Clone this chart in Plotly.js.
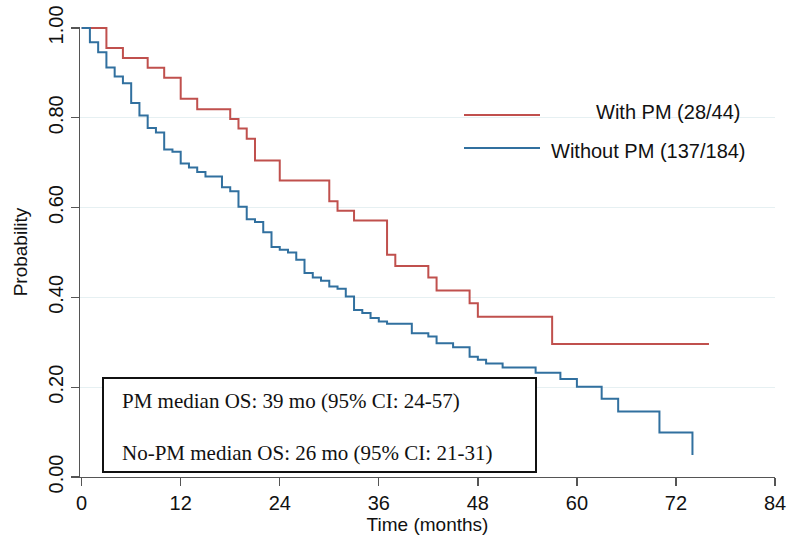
<!DOCTYPE html>
<html>
<head>
<meta charset="utf-8">
<script src="https://cdn.plot.ly/plotly-3.0.1.min.js"></script>
<style>
html,body{margin:0;padding:0;background:#fff;}
#chart{width:788px;height:540px;}
</style>
</head>
<body>
<div id="chart"></div>
<script>
// ---- data ----
const redName = "With PM (28/44)";
const redTime = [0,3,5,8,10,12,14,18,19,20,21,24,30,31,33,37,38,42,43,47,48,57,76];
const redSurv = [1,0.955,0.933,0.911,0.889,0.842,0.819,0.797,0.776,0.753,0.705,0.660,0.614,0.593,0.571,0.495,0.470,0.444,0.415,0.387,0.357,0.296,0.296];

const blueName = "Without PM (137/184)";
const blueTime = [0,1,2,3,4,5,6,7,8,9,10,11,12,13,14,15,17,18,19,20,21,22,23,24,25,26,27,28,29,30,31,32,33,34,35,36,37,40,42,43,45,47,48,49,51,55,58,60,63,65,70,74];
const blueSurv = [1,0.968,0.946,0.912,0.892,0.877,0.833,0.805,0.777,0.767,0.729,0.724,0.698,0.689,0.679,0.669,0.645,0.636,0.602,0.574,0.568,0.545,0.512,0.506,0.500,0.484,0.454,0.444,0.437,0.424,0.419,0.402,0.372,0.365,0.354,0.346,0.341,0.320,0.313,0.298,0.289,0.268,0.261,0.253,0.244,0.232,0.218,0.201,0.174,0.146,0.099,0.049];

const xTicks = [0,12,24,36,48,60,72,84];
const yTicks = [0,0.2,0.4,0.6,0.8,1.0];
const yTickText = ["0.00","0.20","0.40","0.60","0.80","1.00"];

const boxLines = ["PM median OS: 39 mo (95% CI: 24-57)", "No-PM median OS: 26 mo (95% CI: 21-31)"];
const xTitle = "Time (months)";
const yTitle = "Probability";

// ---- styling / layout ----
const RED = "#c0504d", BLUE = "#31709f";
const L = 80, R = 775, T = 27, B = 477;
const px = x => (x - L) / (R - L);
const py = y => (B - y) / (B - T);

const traces = [
  {x: redTime, y: redSurv, name: redName, type: "scatter", mode: "lines",
   line: {shape: "hv", color: RED, width: 2}},
  {x: blueTime, y: blueSurv, name: blueName, type: "scatter", mode: "lines",
   line: {shape: "hv", color: BLUE, width: 2}}
];

const sans = "Liberation Sans, Arial, sans-serif";
const serif = "Liberation Serif, Times New Roman, serif";

const layout = {
  width: 788, height: 540,
  margin: {l: L, r: 788 - R, t: T, b: 540 - B},
  paper_bgcolor: "#fff", plot_bgcolor: "#fff",
  showlegend: false,
  xaxis: {
    range: [-0.2, 84], tickvals: xTicks, ticktext: xTicks.map(String),
    showline: true, linecolor: "#555", linewidth: 1.3,
    ticks: "outside", ticklen: 8, tickwidth: 1.3, tickcolor: "#555",
    showgrid: false, zeroline: false,
    tickfont: {family: sans, size: 20, color: "#111"},
    title: {text: xTitle, font: {family: sans, size: 19, color: "#111"}, standoff: 1}
  },
  yaxis: {
    range: [0, 1.002], tickvals: yTicks, ticktext: yTickText, tickangle: -90,
    showline: true, linecolor: "#555", linewidth: 1.3,
    ticks: "outside", ticklen: 8, tickwidth: 1.3, tickcolor: "#555",
    showgrid: true, gridcolor: "#e6f0f2", gridwidth: 1, zeroline: false,
    tickfont: {family: sans, size: 20, color: "#111"},
    title: {text: yTitle, font: {family: sans, size: 19, color: "#111"}, standoff: 12}
  },
  shapes: [
    {type: "line", xref: "paper", yref: "paper", x0: px(464), x1: px(540), y0: py(115), y1: py(115),
     line: {color: RED, width: 2}},
    {type: "line", xref: "paper", yref: "paper", x0: px(464), x1: px(540), y0: py(148), y1: py(148),
     line: {color: BLUE, width: 2}},
    {type: "rect", xref: "paper", yref: "paper", x0: px(103), x1: px(536), y0: py(378), y1: py(472),
     line: {color: "#111", width: 2}, fillcolor: "#fff", layer: "above"}
  ],
  annotations: [
    {xref: "paper", yref: "paper", x: px(594), y: py(112), xanchor: "left", yanchor: "middle",
     text: redName, showarrow: false, font: {family: sans, size: 20, color: "#111"}},
    {xref: "paper", yref: "paper", x: px(549), y: py(151), xanchor: "left", yanchor: "middle",
     text: blueName, showarrow: false, font: {family: sans, size: 20, color: "#111"}},
    {xref: "paper", yref: "paper", x: px(120), y: py(401), xanchor: "left", yanchor: "middle",
     text: boxLines[0], showarrow: false, font: {family: serif, size: 21, color: "#111"}},
    {xref: "paper", yref: "paper", x: px(120), y: py(453), xanchor: "left", yanchor: "middle",
     text: boxLines[1], showarrow: false, font: {family: serif, size: 21, color: "#111"}}
  ]
};

Plotly.newPlot("chart", traces, layout, {staticPlot: true, displayModeBar: false});
</script>
</body>
</html>
